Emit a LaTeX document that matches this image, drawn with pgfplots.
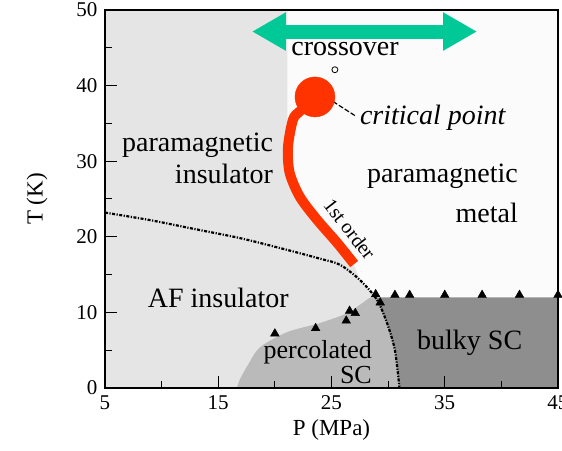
\documentclass[border=0pt]{standalone}
\usepackage{fontspec}
\setmainfont{Liberation Serif}
\usepackage{pgfplots}
\pgfplotsset{compat=1.18}
\usetikzlibrary{arrows.meta}
\definecolor{bggray}{RGB}{229,229,229}
\definecolor{bgwhite}{RGB}{251,251,251}
\definecolor{percgray}{RGB}{186,186,186}
\definecolor{bulkgray}{RGB}{142,142,142}
\definecolor{redline}{RGB}{255,51,0}
\definecolor{greenarrow}{RGB}{0,200,150}
\begin{document}
\begin{tikzpicture}
\begin{axis}[
  scale only axis, width=453bp, height=378bp,
  xmin=5, xmax=45, ymin=0, ymax=50,
  xtick={5,15,25,35,45}, minor xtick={10,20,30,40},
  ytick={0,10,20,30,40,50}, minor ytick={5,15,25,35,45},
  tick pos=left, tick align=inside,
  major tick length=12bp, minor tick length=7bp,
  every tick/.style={black, line width=1bp},
  axis line style={line width=2.2bp},
  axis background/.style={fill=bgwhite},
  axis on top,
  /pgf/number format/assume math mode=true,
  ticklabel style={font=\fontsize{21bp}{24bp}\selectfont},
  xticklabel style={yshift=-4bp},
  yticklabel style={xshift=-4bp},
  xlabel={P (MPa)}, ylabel={T (K)},
  label style={font=\fontsize{23bp}{26bp}\selectfont},
  xlabel style={at={(axis description cs:0.5,-0.111)}, anchor=center},
  ylabel style={at={(axis description cs:-0.150,0.5)}, anchor=center},
]
% light gray (insulating) region
\addplot[draw=none, fill=bggray] coordinates {(5,0) (5,50) (21.1,50) (21.1,35) (21.16,31.9) (21.3,28.5) (22.2,25.3) (23.7,22.3) (25.5,19.2) (26.9,16.6) (27.5,14.3) (29,11.7) (29.9,8.6) (30.6,5) (31,0)} -- cycle;
% percolated SC
\addplot[draw=none, fill=percgray, smooth] coordinates {(16.65,0) (16.9,1.1) (17.6,3) (18.7,5.4) (21.1,7.4) (24,8.6) (26.4,9.9) (27.5,11) (28.6,12.1) (29,11.7) (29.9,8.6) (30.6,5) (31,0)} -- cycle;
% bulky SC
\addplot[draw=none, fill=bulkgray] coordinates {(31,0) (30.6,5) (29.9,8.6) (29,11.7) (28.8,12) (45,12) (45,0)} -- cycle;
% AF boundary
\addplot[black, line width=2.2bp, dash pattern=on 3bp off 1.5bp on 1.2bp off 1.5bp, smooth] coordinates {(5,23.2) (9,22.2) (13,21) (17,19.8) (21,18.3) (24,17.1) (25.75,16.3) (27.5,14.3) (29,11.7) (29.9,8.6) (30.6,5) (31,0)};
% triangles
\addplot[only marks, mark=triangle*, mark size=5bp, black] coordinates {(20.0,7.2) (23.6,7.9) (26.3,8.9) (26.6,10.2) (27.1,9.9) (28.9,12.4) (29.3,11.3) (30.6,12.3) (31.9,12.3) (35.0,12.3) (38.3,12.3) (41.6,12.3) (45,12.3)};
% critical point marker (open circle)
\addplot[only marks, mark=o, mark size=3bp, black, mark options={line width=0.8bp}] coordinates {(25.3,42.1)};
% leader to critical point label
\addplot[black, line width=1.2bp, dash pattern=on 5bp off 2bp] coordinates {(25.13,37.9) (27.1,36.0)};
% red first-order line
\addplot[redline, line width=10bp, smooth] coordinates {(23.54,38.5) (22.2,36.6) (21.6,35.5) (21.16,31.9) (21.3,28.5) (22.2,25.3) (23.7,22.3) (25.5,19.2) (27.0,16.4)};
\addplot[only marks, mark=*, mark size=20bp, redline, mark options={draw=none, fill=redline}] coordinates {(23.54,38.5)};
% green double arrow
\addplot[greenarrow, line width=14bp, arrows={Triangle[width=36bp,length=34bp]-Triangle[width=36bp,length=34bp]}] coordinates {(17.98,47.15) (37.85,47.15)};
% labels
\node[font=\fontsize{28bp}{32bp}\selectfont, inner sep=0] at (axis cs:26.2,44.8) {crossover};
\node[font=\fontsize{28bp}{32bp}\selectfont\itshape, inner sep=0, anchor=west] at (axis cs:27.5,35.8) {critical point};
\node[font=\fontsize{28bp}{32bp}\selectfont, inner sep=0, anchor=east, align=right] at (axis cs:19.85,30.4) {paramagnetic\\insulator};
\node[font=\fontsize{28bp}{32bp}\selectfont, inner sep=0, anchor=east, align=right] at (axis cs:41.47,25.8) {paramagnetic\\[8bp]metal};
\node[font=\fontsize{20bp}{24bp}\selectfont, inner sep=0, rotate=-52] at (axis cs:26.6,21.0) {1st order};
\node[font=\fontsize{28bp}{32bp}\selectfont, inner sep=0] at (axis cs:15.0,11.9) {AF insulator};
\node[font=\fontsize{26bp}{25bp}\selectfont, inner sep=0, anchor=east, align=right] at (axis cs:28.58,3.4) {percolated\\SC};
\node[font=\fontsize{28bp}{32bp}\selectfont, inner sep=0] at (axis cs:37.2,6.0) {bulky SC};
\end{axis}
\pgfresetboundingbox
\path[use as bounding box] (-105bp,-63bp) rectangle (457bp,388bp);
\end{tikzpicture}
\end{document}
